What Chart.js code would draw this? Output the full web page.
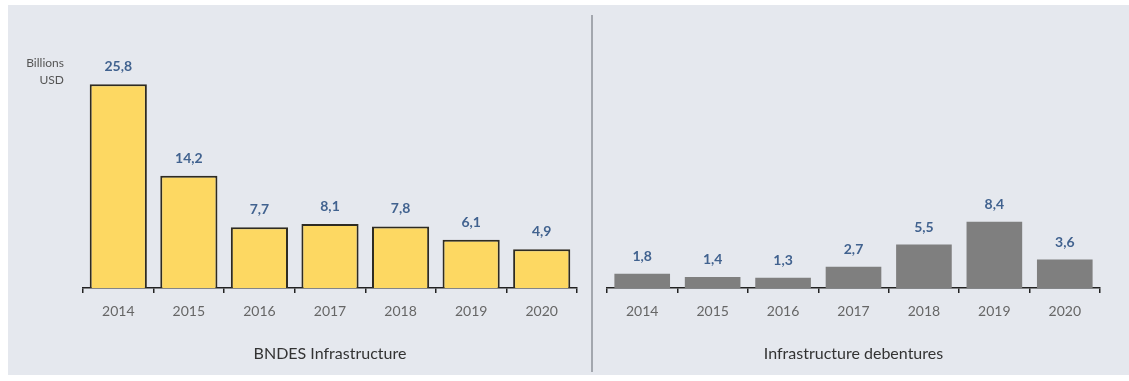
<!DOCTYPE html>
<html lang="en">
<head>
  <meta charset="UTF-8" />
  <title>BNDES infrastructure vs infrastructure debentures</title>
  <script src="https://cdn.jsdelivr.net/npm/chart.js@4.4.1/dist/chart.umd.min.js"></script>
  <style>
    body {
      margin: 0;
      background: #fff;
      width: 1129px;
      height: 381px;
      overflow: hidden;
      font-family: Lato, "Open Sans", sans-serif;
    }
    .panel {
      position: absolute;
      left: 8px;
      top: 5px;
      width: 1121px;
      height: 370px;
      background: #e5e8ee;
    }
    canvas {
      position: absolute;
      top: 0;
    }
    #bndesChart { left: 0; }
    #debChart { left: 586px; }
    .divider {
      position: absolute;
      left: 583px;
      top: 10px;
      width: 2px;
      height: 357px;
      background: #a3a7ae;
    }
    .unit {
      position: absolute;
      left: 0;
      top: 49px;
      width: 56px;
      text-align: right;
      font-size: 12px;
      line-height: 17px;
      color: #555;
    }
  </style>
</head>
<body>
  <div class="panel">
    <canvas id="bndesChart" width="584" height="370"></canvas>
    <div class="divider"></div>
    <canvas id="debChart" width="535" height="370"></canvas>
    <div class="unit">Billions<br>USD</div>
  </div>

<script>
const years = ['2014', '2015', '2016', '2017', '2018', '2019', '2020'];
const bndesValues = [25.8, 14.2, 7.7, 8.1, 7.8, 6.1, 4.9];
const debentureValues = [1.8, 1.4, 1.3, 2.7, 5.5, 8.4, 3.6];

// value above each bar, with comma as decimal sign
const valueLabels = {
  id: 'valueLabels',
  afterDatasetsDraw(chart) {
    const ctx = chart.ctx;
    const meta = chart.getDatasetMeta(0);
    const data = chart.data.datasets[0].data;
    ctx.save();
    ctx.font = 'bold 14px Lato, sans-serif';
    ctx.fillStyle = '#41628f';
    ctx.textAlign = 'center';
    ctx.textBaseline = 'alphabetic';
    meta.data.forEach((bar, i) => {
      ctx.fillText(data[i].toFixed(1).replace('.', ','), bar.x, bar.y - 13);
    });
    ctx.restore();
  }
};

function makeChart(id, values, opts) {
  return new Chart(document.getElementById(id), {
    type: 'bar',
    data: {
      labels: years,
      datasets: [{
        data: values,
        backgroundColor: opts.fill,
        borderColor: opts.border,
        borderWidth: opts.borderWidth,
        borderSkipped: 'start',
        barPercentage: opts.barPct,
        categoryPercentage: 1
      }]
    },
    options: {
      responsive: false,
      animation: false,
      layout: { padding: { left: opts.padLeft, right: opts.padRight, top: 46, bottom: 0 } },
      plugins: { legend: { display: false }, tooltip: { enabled: false } },
      scales: {
        y: { display: false, min: 0, max: 30 },
        x: {
          afterFit: s => { s.height = 87; },
          grid: {
            display: true,
            drawOnChartArea: false,
            drawTicks: true,
            offset: true,
            tickLength: 5,
            color: '#222',
            lineWidth: 1.5
          },
          border: { display: true, color: '#222', width: 1.5 },
          ticks: {
            color: '#666',
            padding: 10,
            font: { size: 14, family: 'Lato, sans-serif' }
          },
          title: {
            display: true,
            text: opts.title,
            color: '#333',
            padding: { top: 0, bottom: 12 },
            font: { size: 16, family: 'Lato, sans-serif' }
          }
        }
      }
    },
    plugins: [valueLabels]
  });
}

makeChart('bndesChart', bndesValues, {
  title: 'BNDES Infrastructure',
  fill: '#fdd862',
  border: '#2e2b22',
  borderWidth: 2,
  barPct: 0.81,
  padLeft: 75,
  padRight: 15
});

makeChart('debChart', debentureValues, {
  title: 'Infrastructure debentures',
  fill: '#7f7f7f',
  border: '#7f7f7f',
  borderWidth: 0,
  barPct: 0.79,
  padLeft: 13,
  padRight: 29
});
</script>
</body>
</html>
